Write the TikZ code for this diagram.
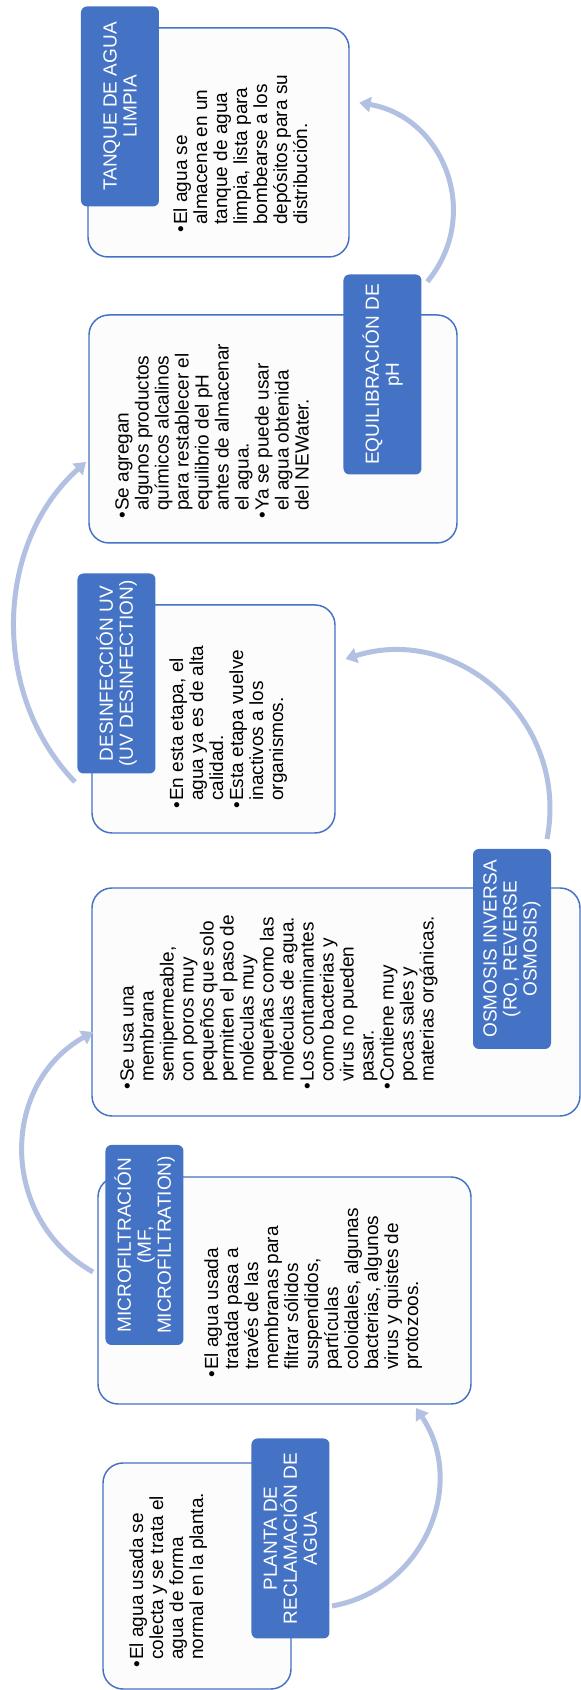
\documentclass[tikz,border=0pt]{standalone}
\usepackage{fontspec}
\setmainfont{Liberation Sans}
\usetikzlibrary{arrows.meta}
\definecolor{azul}{RGB}{68,114,196}
\definecolor{azulclaro}{RGB}{178,192,225}
\definecolor{fondo}{RGB}{252,252,252}
\newcommand{\vin}{\makebox[0.42em][l]{•}}
\newcommand{\sang}{\hspace*{0.42em}}

\begin{document}
\begin{tikzpicture}[x=0.75pt, y=0.75pt, rotate=90, transform shape]
    \tikzstyle{caja}=[draw=azul, line width=1.1pt, fill=fondo, rounded corners=15pt]
    \tikzstyle{etiqueta}=[fill=azul, text=white, rounded corners=4.5pt, minimum width=150pt, minimum height=58.5pt, align=center, inner sep=0pt, font=\fontsize{14.25}{15}\selectfont]
    \tikzstyle{texto}=[anchor=north west, align=left, inner sep=0pt, font=\fontsize{14.25}{15}\selectfont]
    \tikzstyle{flecha}=[draw=azulclaro, line width=3.75pt, -{Triangle[width=11.25pt, length=8.5pt]}]
    \useasboundingbox (0,0) rectangle (1690,581);

    \node[caja, minimum width=169.5pt, minimum height=141pt] (caja1) at (114,384) {};
    \node[caja, minimum width=170.25pt, minimum height=279.75pt] (caja2) at (399.5,296.5) {};
    \node[caja, minimum width=171pt, minimum height=366pt] (caja3) at (688,245) {};
    \node[caja, minimum width=171pt, minimum height=182.25pt] (caja4) at (971,367.5) {};
    \node[caja, minimum width=171pt, minimum height=276pt] (caja5) at (1261,308) {};
    \node[caja, minimum width=171.75pt, minimum height=195.75pt] (caja6) at (1547.5,362.5) {};

    \node[texto] (texto1) at (22,452) {\vin El agua usada se\\ \sang colecta y se trata el\\ \sang agua de forma\\ \sang normal en la planta.};
    \node[texto] (texto2) at (312,377) {\vin El agua usada\\ \sang tratada pasa a\\ \sang través de las\\ \sang membranas para\\ \sang filtrar sólidos\\ \sang suspendidos,\\ \sang partículas\\ \sang coloidales, algunas\\ \sang bacterias, algunos\\ \sang virus y quistes de\\ \sang protozoos.};
    \node[texto] (texto3) at (600,461) {\vin Se usa una\\ \sang membrana\\ \sang semipermeable,\\ \sang con poros muy\\ \sang pequeños que solo\\ \sang permiten el paso de\\ \sang moléculas muy\\ \sang pequeñas como las\\ \sang moléculas de agua.\\ \vin Los contaminantes\\ \sang como bacterias y\\ \sang virus no pueden\\ \sang pasar.\\ \vin Contiene muy\\ \sang pocas sales y\\ \sang materias orgánicas.};
    \node[texto] (texto4) at (881,412) {\vin En esta etapa, el\\ \sang agua ya es de alta\\ \sang calidad.\\ \vin Esta etapa vuelve\\ \sang inactivos a los\\ \sang organismos.};
    \node[texto] (texto5) at (1171,466) {\vin Se agregan\\ \sang algunos productos\\ \sang químicos alcalinos\\ \sang para restablecer el\\ \sang equilibrio del pH\\ \sang antes de almacenar\\ \sang el agua.\\ \vin Ya se puede usar\\ \sang el agua obtenida\\ \sang del NEWater.};
    \node[texto] (texto6) at (1457,408) {\vin El agua se\\ \sang almacena en un\\ \sang tanque de agua\\ \sang limpia, lista para\\ \sang bombearse a los\\ \sang depósitos para su\\ \sang distribución.};

    \node[etiqueta] (etiq1) at (151.5,290.5) {PLANTA DE\\RECLAMACIÓN DE\\AGUA};
    \node[etiqueta] (etiq2) at (445,436.5) {MICROFILTRACIÓN\\(MF,\\MICROFILTRATION)};
    \node[etiqueta] (etiq3) at (741,69) {OSMOSIS INVERSA\\(RO, REVERSE\\OSMOSIS)};
    \node[etiqueta] (etiq4) at (1016.5,464.5) {DESINFECCIÓN UV\\(UV DESINFECTION)};
    \node[etiqueta] (etiq5) at (1315.5,198.5) {EQUILIBRACIÓN DE\\pH};
    \node[etiqueta] (etiq6) at (1583.5,461) {TANQUE DE AGUA\\LIMPIA};

    \coordinate (f1a) at (84,249);
    \coordinate (f1b) at (282,165);
    \coordinate (f2a) at (418,488);
    \coordinate (f2b) at (658,488);
    \coordinate (f3a) at (851,34);
    \coordinate (f3b) at (1031,235.5);
    \coordinate (f4a) at (908,506);
    \coordinate (f4b) at (1228,495);
    \coordinate (f5a) at (1408.3,153.7);
    \coordinate (f5b) at (1587.3,221.7);

    \draw[flecha] (f1a) .. controls (100.1,157.8) and (205.2,113.2) .. (f1b);
    \draw[flecha] (f2a) .. controls (470.9,581.6) and (605.1,581.6) .. (f2b);
    \draw[flecha] (f3a) .. controls (968,11.3) and (1067,121.9) .. (f3b);
    \draw[flecha] (f4a) .. controls (996,591) and (1147,586) .. (f4b);
    \draw[flecha] (f5a) .. controls (1474.6,98.6) and (1572.8,136.7) .. (f5b);
\end{tikzpicture}
\end{document}
